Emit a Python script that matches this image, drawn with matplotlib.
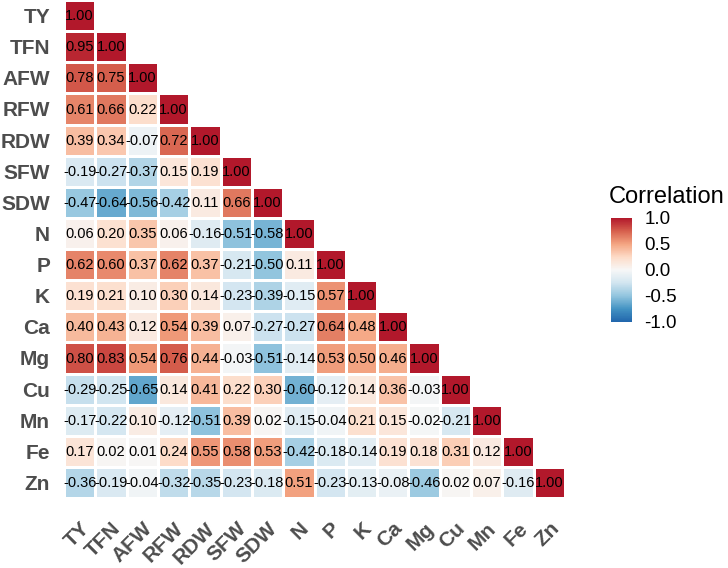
import numpy as np
import matplotlib.pyplot as plt
from matplotlib.colors import LinearSegmentedColormap, Normalize

plt.rcParams["font.family"] = ["Liberation Sans", "DejaVu Sans"]

variables = ["TY", "TFN", "AFW", "RFW", "RDW", "SFW", "SDW", "N",
             "P", "K", "Ca", "Mg", "Cu", "Mn", "Fe", "Zn"]

# lower triangle, row by row (diagonal included)
lower_rows = [
    [1.00],
    [0.95, 1.00],
    [0.78, 0.75, 1.00],
    [0.61, 0.66, 0.22, 1.00],
    [0.39, 0.34, -0.07, 0.72, 1.00],
    [-0.19, -0.27, -0.37, 0.15, 0.19, 1.00],
    [-0.47, -0.64, -0.56, -0.42, 0.11, 0.66, 1.00],
    [0.06, 0.20, 0.35, 0.06, -0.16, -0.51, -0.58, 1.00],
    [0.62, 0.60, 0.37, 0.62, 0.37, -0.21, -0.50, 0.11, 1.00],
    [0.19, 0.21, 0.10, 0.30, 0.14, -0.23, -0.39, -0.15, 0.57, 1.00],
    [0.40, 0.43, 0.12, 0.54, 0.39, 0.07, -0.27, -0.27, 0.64, 0.48, 1.00],
    [0.80, 0.83, 0.54, 0.76, 0.44, -0.03, -0.51, -0.14, 0.53, 0.50, 0.46, 1.00],
    [-0.29, -0.25, -0.65, 0.14, 0.41, 0.22, 0.30, -0.60, -0.12, 0.14, 0.36, -0.03, 1.00],
    [-0.17, -0.22, 0.10, -0.12, -0.51, 0.39, 0.02, -0.15, -0.04, 0.21, 0.15, -0.02, -0.21, 1.00],
    [0.17, 0.02, 0.01, 0.24, 0.55, 0.58, 0.53, -0.42, -0.18, -0.14, 0.19, 0.18, 0.31, 0.12, 1.00],
    [-0.36, -0.19, -0.04, -0.32, -0.35, -0.23, -0.18, 0.51, -0.23, -0.13, -0.08, -0.46, 0.02, 0.07, -0.16, 1.00],
]

palette = ["#2166AC", "#4393C3", "#92C5DE", "#D1E5F0", "#F7F7F7",
           "#FDDBC7", "#F4A582", "#D6604D", "#B2182B"]
cmap = LinearSegmentedColormap.from_list("rdbu9", palette)

n = len(variables)
corr = np.full((n, n), np.nan)
for i, row in enumerate(lower_rows):
    corr[i, :len(row)] = row
masked = np.ma.masked_invalid(corr)

fig = plt.figure(figsize=(7.28, 5.68), dpi=100)
ax = fig.add_axes([64 / 728, 1 - 498 / 568, 501 / 728, 498 / 568])

norm = Normalize(vmin=-1, vmax=1)
mesh = ax.pcolormesh(np.arange(n + 1), np.arange(n + 1), masked, cmap=cmap,
                     norm=norm, edgecolors="white", linewidth=0.8)
ax.set_xlim(0, n)
ax.set_ylim(n, 0)

for i in range(n):
    for j in range(i + 1):
        ax.text(j + 0.5, i + 0.52, f"{corr[i, j]:.2f}", ha="center", va="center",
                fontsize=10.5, color="black")

ax.set_xticks(np.arange(n) + 0.5)
ax.set_yticks(np.arange(n) + 0.5)
ax.set_xticklabels(variables, rotation=45, ha="right", va="top",
                   rotation_mode="anchor", fontsize=15, fontweight="bold", color="#4d4d4d")
ax.set_yticklabels(variables, fontsize=15, fontweight="bold", color="#4d4d4d")
ax.tick_params(length=0)
ax.tick_params(axis="y", pad=10)
ax.tick_params(axis="x", pad=15)
for s in ax.spines.values():
    s.set_visible(False)

cax = fig.add_axes([611 / 728, 1 - 322 / 568, 21 / 728, 104 / 568])
cb = fig.colorbar(mesh, cax=cax, ticks=[-1.0, -0.5, 0.0, 0.5, 1.0])
cb.outline.set_visible(False)
cb.ax.set_yticklabels(["-1.0", "-0.5", "0.0", "0.5", "1.0"])
cb.ax.tick_params(length=0, labelsize=13.5, pad=9)
fig.text(609 / 728, 1 - 203 / 568, "Correlation", fontsize=17, va="baseline", ha="left")

plt.savefig("out.png", dpi=100)
